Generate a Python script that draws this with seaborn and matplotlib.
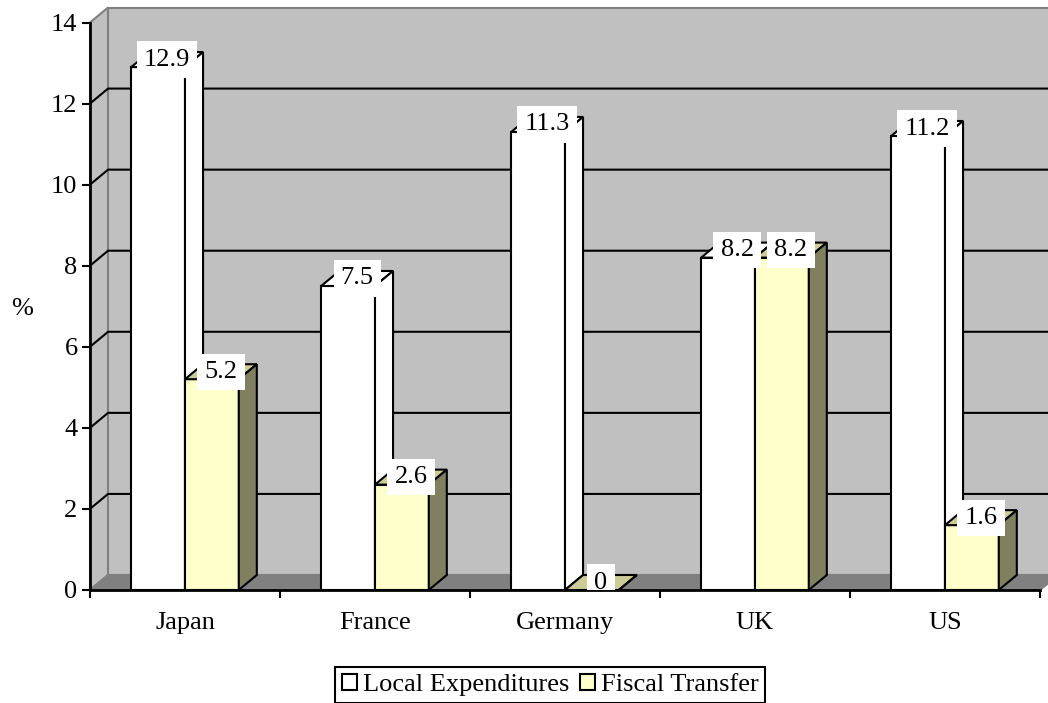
import numpy as np
import pandas as pd
import matplotlib
matplotlib.use("Agg")
import matplotlib.pyplot as plt
from matplotlib.patches import Polygon, Patch
import seaborn as sns

# Share of GDP (%) by country
countries = ["Japan", "France", "Germany", "UK", "US"]
local_exp = [12.9, 7.5, 11.3, 8.2, 11.2]
fiscal_transfer = [5.2, 2.6, 0, 8.2, 1.6]
series_names = ["Local Expenditures", "Fiscal Transfer"]
y_ticks = [0, 2, 4, 6, 8, 10, 12, 14]

plt.rcParams["font.family"] = ["Liberation Serif", "DejaVu Serif"]
FS = 19

df = pd.DataFrame({
    "country": countries * 2,
    "series": [series_names[0]] * len(countries) + [series_names[1]] * len(countries),
    "value": local_exp + fiscal_transfer,
})
series_values = {series_names[0]: local_exp, series_names[1]: fiscal_transfer}

FRONT = {series_names[0]: "#FFFFFF", series_names[1]: "#FFFFCC"}
TOP = {series_names[0]: "#FFFFFF", series_names[1]: "#CCCC99"}
SIDE = {series_names[0]: "#FFFFFF", series_names[1]: "#808060"}

W, H = 1048, 703
fig = plt.figure(figsize=(W / 100, H / 100), dpi=100)
ax = fig.add_axes([90 / W, 113 / H, 950 / W, 567.5 / H])
ax.set_facecolor("none")

sns.barplot(data=df, x="country", y="value", hue="series",
            order=countries, hue_order=series_names, palette=FRONT,
            saturation=1, width=0.566, edgecolor="black", linewidth=1.5,
            legend=False, ax=ax)

ax.set_xlim(-0.5, len(countries) - 0.5)
ax.set_ylim(y_ticks[0], y_ticks[-1])

# depth of the pseudo-3D walls and columns, in data units
DX, DY = 0.095, 0.37
x_lo, x_hi = -0.5, len(countries) - 0.5
y_top = y_ticks[-1]

wall_kw = dict(lw=1.5, ec="#808080", clip_on=False, joinstyle="miter")
ax.add_patch(Polygon([(x_lo, 0), (x_lo, y_top), (x_lo + DX, y_top + DY), (x_lo + DX, DY)],
                     fc="#C0C0C0", zorder=0.1, **wall_kw))
ax.add_patch(Polygon([(x_lo + DX, DY), (x_lo + DX, y_top + DY), (x_hi + DX, y_top + DY), (x_hi + DX, DY)],
                     fc="#C0C0C0", zorder=0.1, **wall_kw))
ax.add_patch(Polygon([(x_lo, 0), (x_hi, 0), (x_hi + DX, DY), (x_lo + DX, DY)],
                     fc="#808080", zorder=0.2, **wall_kw))

for t in y_ticks[1:-1]:
    ax.plot([x_lo, x_lo + DX, x_hi + DX], [t, t + DY, t + DY],
            color="black", lw=1.5, zorder=0.5, clip_on=False, solid_joinstyle="miter")

# extrude every column: top face and right side face
for ci, container in enumerate(ax.containers):
    name = series_names[ci]
    vals = series_values[name]
    for bar, v in zip(container, vals):
        x0, w, h = bar.get_x(), bar.get_width(), bar.get_height()
        bar.set_zorder(2 + ci)
        face_kw = dict(ec="black", lw=1.5, zorder=2 + ci + 0.1, joinstyle="miter", clip_on=False)
        ax.add_patch(Polygon([(x0, h), (x0 + w, h), (x0 + w + DX, h + DY), (x0 + DX, h + DY)],
                             fc=TOP[name], **face_kw))
        ax.add_patch(Polygon([(x0 + w, 0), (x0 + w + DX, DY), (x0 + w + DX, h + DY), (x0 + w, h)],
                             fc=SIDE[name], **face_kw))
        ax.text(x0 + w / 2 + DX / 2, h + DY / 2, f"{v:g}", ha="center", va="center",
                fontsize=FS, zorder=6, clip_on=True,
                bbox=dict(boxstyle="square,pad=0.27", fc="white", ec="none"))

for s in ["top", "right"]:
    ax.spines[s].set_visible(False)
for s in ["left", "bottom"]:
    ax.spines[s].set_color("black")
    ax.spines[s].set_linewidth(2)
    ax.spines[s].set_zorder(4)

ax.set_yticks(y_ticks)
ax.tick_params(axis="y", direction="out", length=6, width=1.5, pad=3,
               labelsize=FS, color="black")
ax.set_xticks(range(len(countries)))
ax.set_xticklabels(countries)
ax.set_xticks(np.arange(-0.5, len(countries), 1), minor=True)
ax.tick_params(axis="x", which="major", length=0, pad=16, labelsize=FS)
ax.tick_params(axis="x", which="minor", length=6, width=1.5, direction="out")
ax.set_xlabel("")
ax.set_ylabel("")

fig.text(22 / W, 1 - 309 / H, "%", fontsize=FS, ha="center", va="center")

handles = [Patch(fc=FRONT[n], ec="black", lw=1.5) for n in series_names]
leg = fig.legend(handles, series_names, loc="center",
                 bbox_to_anchor=(550 / W, 1 - 685 / H), ncol=2,
                 frameon=True, fancybox=False, edgecolor="black", fontsize=FS,
                 handlelength=0.6, handleheight=0.6, handletextpad=0.2,
                 columnspacing=0.4, borderpad=0.25, borderaxespad=0)
leg.get_frame().set_linewidth(1.5)
leg.get_frame().set_alpha(None)

fig.savefig("out.png", dpi=100)
